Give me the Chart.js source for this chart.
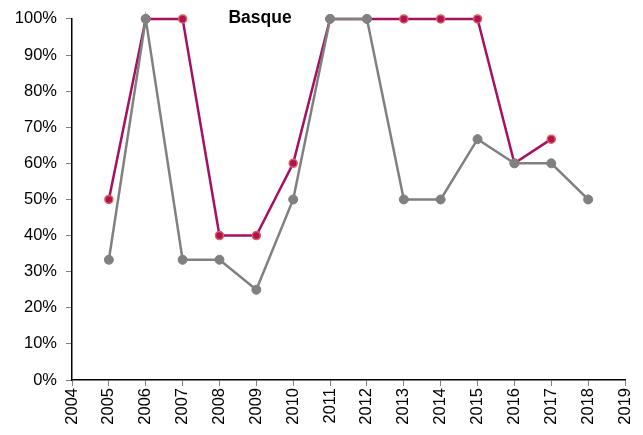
<!DOCTYPE html>
<html>
<head>
<meta charset="utf-8">
<script src="https://cdn.jsdelivr.net/npm/chart.js@4.4.0/dist/chart.umd.min.js"></script>
<style>
  html, body { margin: 0; padding: 0; background: #fff; }
  #wrap { width: 643px; height: 435px; }
</style>
</head>
<body>
<div id="wrap"><canvas id="myChart" width="643" height="435"></canvas></div>
<script>
// values
const years = [2005, 2006, 2007, 2008, 2009, 2010, 2011, 2012, 2013, 2014, 2015, 2016, 2017, 2018];
const basqueA = [50, 100, 100, 40, 40, 60, 100, 100, 100, 100, 100, 60, 66.7, null];
const basqueB = [33.3, 100, 33.3, 33.3, 25, 50, 100, 100, 50, 50, 66.7, 60, 60, 50];
const chartTitle = 'Basque';

const toPoints = (vals) => years.map((y, i) => ({ x: y, y: vals[i] })).filter(p => p.y !== null);

const titlePlugin = {
    id: 'insideTitle',
    afterDraw(chart) {
        const ctx = chart.ctx;
        ctx.save();
        ctx.font = 'bold 17.5px "Liberation Sans", Arial, sans-serif';
        ctx.fillStyle = '#000';
        ctx.textAlign = 'center';
        ctx.textBaseline = 'middle';
        ctx.fillText(chartTitle, chart.scales.x.getPixelForValue(2009.1), 18);
        ctx.restore();
    }
};

const tickFont = { family: '"Liberation Sans", Arial, sans-serif', size: 16.5 };

const ctx = document.getElementById('myChart').getContext('2d');
new Chart(ctx, {
    type: 'line',
    data: {
        datasets: [
            {
                label: 'B',
                data: toPoints(basqueB),
                borderColor: '#808080',
                backgroundColor: '#808080',
                pointBackgroundColor: '#808080',
                pointBorderColor: '#808080',
                borderWidth: 2.5,
                pointRadius: 4.5,
                pointBorderWidth: 1,
                tension: 0,
                clip: false
            },
            {
                label: 'A',
                data: toPoints(basqueA),
                borderColor: '#A50F64',
                backgroundColor: '#A50F64',
                pointBackgroundColor: '#B0125A',
                pointBorderColor: '#E0604F',
                borderWidth: 2.5,
                pointRadius: 4,
                pointBorderWidth: 1.5,
                tension: 0,
                clip: false
            }
        ]
    },
    options: {
        responsive: false,
        animation: false,
        layout: { padding: { top: 17, right: 18, left: 0, bottom: 0 } },
        plugins: {
            legend: { display: false },
            tooltip: { enabled: false }
        },
        scales: {
            x: {
                type: 'linear',
                min: 2004,
                max: 2019,
                afterFit: (s) => {
                    s.height = 55;
                    s.paddingRight = 0;
                    s.paddingLeft = 0;
                },
                ticks: {
                    stepSize: 1,
                    minRotation: 90,
                    maxRotation: 90,
                    color: '#000',
                    padding: 2,
                    font: tickFont,
                    callback: (v) => String(v)
                },
                grid: { drawOnChartArea: false, drawTicks: true, tickLength: 6, color: '#808080' },
                border: { color: '#000', width: 1.5 }
            },
            y: {
                min: 0,
                max: 100,
                afterFit: (s) => { s.width = 72; },
                ticks: {
                    stepSize: 10,
                    color: '#000',
                    padding: 9,
                    font: tickFont,
                    callback: (v) => v + '%'
                },
                grid: { drawOnChartArea: false, drawTicks: true, tickLength: 6, color: '#808080' },
                border: { color: '#000', width: 1.5 }
            }
        }
    },
    plugins: [titlePlugin]
});
</script>
</body>
</html>
